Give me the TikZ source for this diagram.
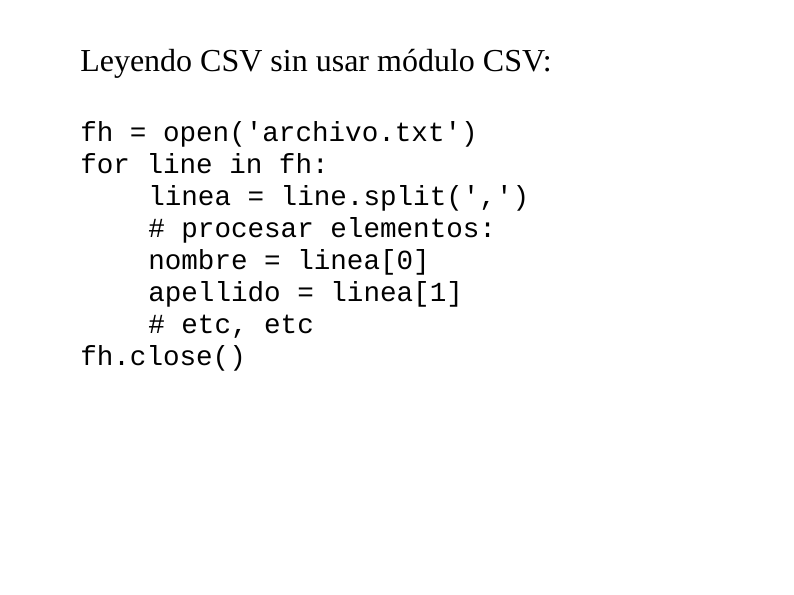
\documentclass[tikz,border=0pt]{standalone}
\usepackage{fontspec}
\setmainfont{Liberation Serif}
\setmonofont{Liberation Mono}
\begin{document}
\begin{tikzpicture}[x=0.75pt,y=-0.75pt,
  title/.style={anchor=base west,inner sep=0pt,font=\fontsize{24}{28}\selectfont},
  code/.style={anchor=base west,inner sep=0pt,font=\ttfamily\fontsize{20.7}{24}\selectfont}]
  \useasboundingbox (0,0) rectangle (794,595);
  \node[title] (head) at (80,72) {Leyendo CSV sin usar módulo CSV:};
  \node[code] (l1) at (80,142) {fh = open('archivo.txt')};
  \node[code] (l2) at (80,174) {for line in fh:};
  \node[code] (l3) at (148,206) {linea = line.split(',')};
  \node[code] (l4) at (148,238) {\# procesar elementos:};
  \node[code] (l5) at (148,270) {nombre = linea[0]};
  \node[code] (l6) at (148,302) {apellido = linea[1]};
  \node[code] (l7) at (148,334) {\# etc, etc};
  \node[code] (l8) at (80,366) {fh.close()};
\end{tikzpicture}
\end{document}
